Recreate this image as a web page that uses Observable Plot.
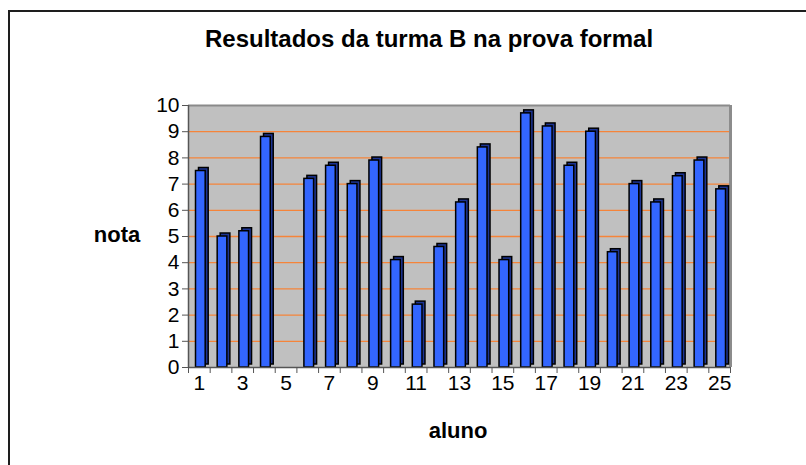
<!DOCTYPE html>
<html>
<head>
<meta charset="utf-8">
<script src="https://cdn.jsdelivr.net/npm/d3@7"></script>
<script src="https://cdn.jsdelivr.net/npm/@observablehq/plot@0.6"></script>
<style>
  html, body { margin: 0; padding: 0; background: #fff; }
  #wrap { position: relative; width: 806px; height: 465px; overflow: hidden; font-family: "Liberation Sans", Arial, sans-serif; }
  #border { position: absolute; left: 8px; top: 10px; width: 900px; height: 600px; border-left: 2px solid #1e1e1e; border-top: 2px solid #1e1e1e; }
  #chart { position: absolute; left: 0; top: 0; }
  .lbl { position: absolute; font-weight: bold; color: #000; white-space: nowrap; transform: translate(-50%, 0); line-height: 1.15; }
</style>
</head>
<body>
<div id="wrap">
  <div id="border"></div>
  <div id="chart"></div>
  <div class="lbl" id="title" style="left:429px; top:25px; font-size:24px;">Resultados da turma B na prova formal</div>
  <div class="lbl" id="ylab" style="left:117px; top:222px; font-size:22px;">nota</div>
  <div class="lbl" id="xlab" style="left:458px; top:418px; font-size:22px;">aluno</div>
</div>
<script>
// data
const alunos = [1,2,3,4,5,6,7,8,9,10,11,12,13,14,15,16,17,18,19,20,21,22,23,24,25];
const notas  = [7.5,5.0,5.2,8.8,null,7.2,7.7,7.0,7.9,4.1,2.4,4.6,6.3,8.4,4.1,9.7,9.2,7.7,9.0,4.4,7.0,6.3,7.3,7.9,6.8];
const yTicks = [0,1,2,3,4,5,6,7,8,9,10];
const gridTicks = [1,2,3,4,5,6,7,8,9];
const xLabels = [1,3,5,7,9,11,13,15,17,19,21,23,25];

const data = alunos.map((a, i) => ({aluno: a, nota: notas[i]})).filter(d => d.nota != null);
const boundaries = [...alunos.map(a => a - 0.5), alunos[alunos.length - 1] + 0.5];
const xMin = alunos[0] - 0.5, xMax = alunos[alunos.length - 1] + 0.5;

const barOpts = {
  x1: d => d.aluno - 0.5,
  x2: d => d.aluno + 0.5,
  y: "nota",
  insetLeft: 7.5,
  insetRight: 4.5
};

const chart = Plot.plot({
  width: 806,
  height: 465,
  marginLeft: 188,
  marginRight: 76,
  marginTop: 105,
  marginBottom: 98,
  style: {fontFamily: "'Liberation Sans', Arial, sans-serif", fontSize: "21px", color: "#000", background: "transparent"},
  x: {type: "linear", domain: [xMin, xMax], axis: null},
  y: {domain: [0, 10], axis: null},
  marks: [
    Plot.frame({fill: "#c0c0c0", stroke: null}),
    Plot.ruleY(gridTicks, {stroke: "#f5843a", strokeWidth: 1.3}),
    Plot.ruleY([10], {stroke: "#8a8a8a", strokeWidth: 2}),
    Plot.ruleX([xMax], {stroke: "#8c8c8c", strokeWidth: 3}),
    // depth (side + top) of the 3D columns
    Plot.rectY(data, {...barOpts, dx: 3, dy: -3, fill: "#1c3494", stroke: "#000", strokeWidth: 1.5}),
    // front faces
    Plot.rectY(data, {...barOpts, fill: "#3366ff", stroke: "#000", strokeWidth: 1.5}),
    Plot.ruleX([xMin], {stroke: "#555", strokeWidth: 1.5}),
    Plot.ruleY([0], {stroke: "#555", strokeWidth: 1.5}),
    Plot.axisY({ticks: yTicks, tickSize: 6, tickPadding: 3, fontSize: 21, stroke: "#555", label: null}),
    Plot.axisX({ticks: boundaries, tickSize: 6, tickFormat: () => "", stroke: "#555", label: null}),
    Plot.axisX({ticks: xLabels, tickSize: 0, tickPadding: 8, fontSize: 21, tickFormat: d => String(d), label: null})
  ]
});
document.getElementById("chart").appendChild(chart);
</script>
</body>
</html>
